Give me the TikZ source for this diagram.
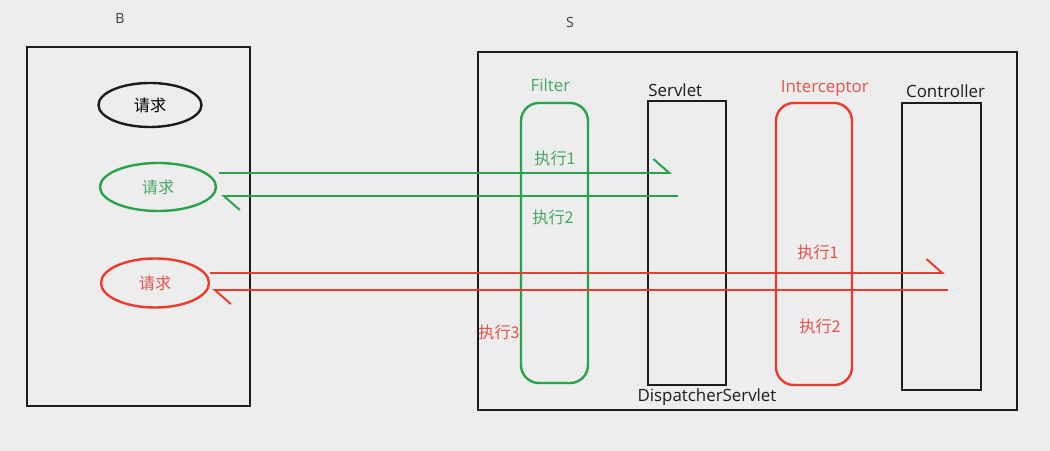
\documentclass[tikz,border=0pt]{standalone}
\usepackage{fontspec}
\setmainfont{Open Sans}
\newfontfamily\cjk{Noto Sans CJK SC}
\usetikzlibrary{arrows.meta,positioning,shapes.geometric}
\definecolor{fondo}{HTML}{EDEDED}
\definecolor{verde}{HTML}{2AA24C}
\definecolor{verdetx}{HTML}{45A863}
\definecolor{rojo}{HTML}{EE3A2C}
\definecolor{rojotx}{HTML}{E3534A}
\definecolor{negro}{HTML}{1C1C1C}

\begin{document}
\begin{tikzpicture}[x=0.025cm,y=-0.025cm,font=\fontsize{12}{14}\selectfont,
    caja/.style={draw=negro,line width=2pt,inner sep=0pt},
    capa/.style={draw,line width=1.7pt,rounded corners=4.5mm,inner sep=0pt,minimum height=7cm},
    peticion/.style={ellipse,draw,line width=1.7pt,inner sep=0pt,font=\cjk\fontsize{11.5}{13}\selectfont},
    paso/.style={font=\cjk\fontsize{11.5}{13}\selectfont,inner sep=1pt},
    etiq/.style={inner sep=1pt,text=negro},
    lado/.style={inner sep=1pt,text=negro!85,font=\fontsize{10}{12}\selectfont},
    flujo/.style={line width=1.4pt,-{Straight Barb[left,length=4mm,width=7mm]}}]
  \fill[fondo] (0,0) rectangle (1050,451);
  \useasboundingbox (0,0) rectangle (1050,451);
  % lado B
  \node[caja,minimum width=5.575cm,minimum height=8.975cm] (nav) at (138.5,226.5) {};
  \node[lado] (navlbl) at (120,18) {B};
  \node[peticion,draw=negro,minimum width=2.575cm,minimum height=1.1cm] (req0) at (150,105) {请求};
  \node[peticion,draw=verde,text=verdetx,minimum width=2.9cm,minimum height=1.2cm] (req1) at (158,187) {请求};
  \node[peticion,draw=rojo,text=rojotx,minimum width=2.7cm,minimum height=1.225cm] (req2) at (155,283) {请求};
  % lado S
  \node[caja,minimum width=13.475cm,minimum height=8.95cm] (srv) at (747.5,231) {};
  \node[lado] (srvlbl) at (570,22) {S};
  \node[capa,draw=verde,minimum width=1.675cm] (filtro) at (554.5,243) {};
  \node[etiq,text=verdetx,above=2.2mm of filtro,xshift=-1mm] (filtrolbl) {Filter};
  \node[caja,line width=1.8pt,minimum width=1.95cm,minimum height=7.1cm] (servlet) at (687,243) {};
  \node[etiq,anchor=south west] (servletlbl) at ([yshift=0.3mm]servlet.north west) {Servlet};
  \node[etiq] (dispatcher) at (707,397) {DispatcherServlet};
  \node[capa,draw=rojo,minimum width=1.9cm,minimum height=7.05cm] (interc) at (814,244) {};
  \node[etiq,text=rojotx,above=0.9mm of interc,xshift=2.7mm] (interclbl) {Interceptor};
  \node[caja,line width=1.6pt,minimum width=1.975cm,minimum height=7.175cm] (ctrl) at (941.5,246.5) {};
  \node[etiq,above=0.5mm of ctrl,xshift=1mm] (ctrllbl) {Controller};
  % pasos
  \node[paso,text=verdetx] (f1) at (555,158) {执行1};
  \node[paso,text=verdetx] (f2) at (553,217) {执行2};
  \node[paso,text=rojotx] (i1) at (818,252) {执行1};
  \node[paso,text=rojotx] (i2) at (820,326) {执行2};
  \node[paso,text=rojotx] (f3) at (499,332) {执行3};
  % ida y vuelta
  \coordinate (gida) at (672,173);
  \coordinate (gvuelta) at (678,196);
  \coordinate (rida) at (945,273);
  \coordinate (rvuelta) at (948,290);
  \draw[flujo,verde] ([xshift=0.5mm]req1.east |- gida) -- (gida);
  \draw[flujo,verde] (gvuelta) -- ([xshift=1mm]req1.east |- gvuelta);
  \draw[flujo,rojo] (req2.east |- rida) -- (rida);
  \draw[flujo,rojo] (rvuelta) -- ([xshift=0.5mm]req2.east |- rvuelta);
\end{tikzpicture}
\end{document}
